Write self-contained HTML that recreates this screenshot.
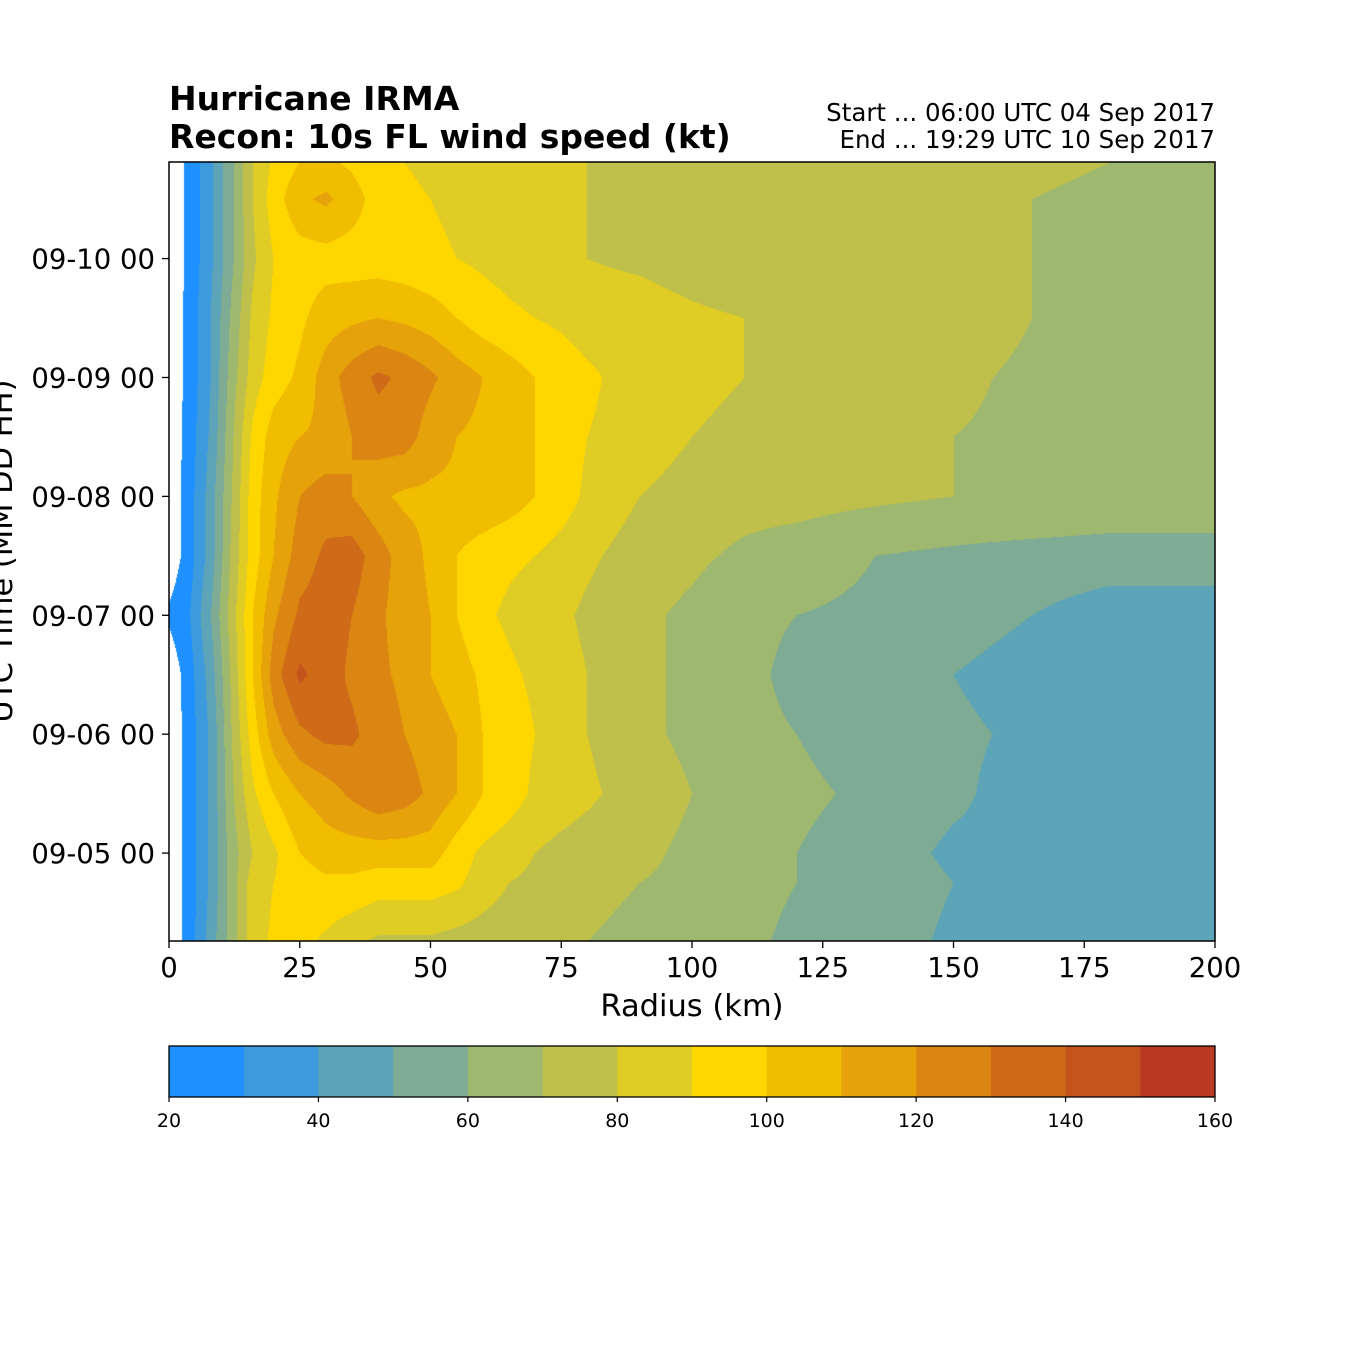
<!DOCTYPE html>
<html><head><meta charset="utf-8">
<style>
html,body{margin:0;padding:0;background:#fff;}
body{width:1350px;height:1350px;position:relative;overflow:hidden;font-family:"DejaVu Sans","Liberation Sans",sans-serif;}
.t{position:absolute;white-space:nowrap;color:#000;}
</style></head>
<body>
<div class="t" style="left:169px;top:80px;font-size:33px;font-weight:bold;line-height:38px;">Hurricane IRMA<br>Recon: 10s FL wind speed (kt)</div>
<div class="t" style="right:135px;top:99px;font-size:24.5px;line-height:27px;text-align:right;">Start ... 06:00 UTC 04 Sep 2017<br>End ... 19:29 UTC 10 Sep 2017</div>
<canvas id="cv" width="1046" height="779" style="position:absolute;left:169px;top:162px;"></canvas>
<svg id="ax" width="1350" height="1350" style="position:absolute;left:0;top:0;" font-family="DejaVu Sans, Liberation Sans, sans-serif"></svg>
<script>
const radii=[0,4,8,12,16,20,25,30,35,40,45,50,55,60,65,70,75,80,90,100,110,120,135,150,165,180,200];
const times=[4.25,4.75,5.0,5.5,6.0,6.5,7.0,7.5,8.0,8.5,9.0,9.5,10.0,10.5,10.81];
const wind=[
[12,25,45,65,85,92,93,88,82,78,78,78,76,75,74,74,72,70,68,66,62,58,55,48,47,42,42],
[12,25,42,65,85,90,95,98,98,95,95,95,92,85,80,78,75,72,70,68,63,60,56,50,48,45,44],
[12,25,42,65,80,88,100,105,105,105,105,105,95,88,84,80,77,75,72,68,65,60,55,48,48,45,45],
[12,25,42,68,88,100,110,115,122,128,125,118,110,100,95,88,85,82,75,70,65,62,58,52,45,45,48],
[12,25,42,70,95,115,128,133,132,125,120,115,110,100,95,90,85,80,72,68,62,60,55,52,48,45,45],
[12,26,45,72,100,125,142,135,128,122,118,110,105,98,92,88,84,80,72,68,62,58,55,50,45,45,45],
[22,30,50,75,100,118,132,135,130,122,115,110,100,92,88,85,82,78,72,68,62,60,58,55,50,45,45],
[12,26,45,72,95,110,125,132,135,125,115,108,100,95,92,90,86,82,75,72,68,65,60,58,56,55,55],
[12,26,45,70,95,108,120,125,120,112,108,108,108,108,105,100,95,88,80,76,74,74,72,70,70,68,68],
[12,25,42,68,92,105,110,112,120,125,125,115,110,108,104,100,95,90,85,80,78,76,72,70,68,66,66],
[12,24,40,65,85,95,102,115,125,132,128,122,115,110,105,100,96,92,85,82,80,78,76,72,68,66,66],
[12,24,40,62,82,92,98,105,108,110,108,105,100,95,92,90,88,85,85,82,80,80,78,76,70,68,68],
[12,23,38,58,78,90,95,96,95,95,94,92,90,88,86,84,82,80,78,75,72,72,74,72,70,68,68],
[12,23,38,58,80,95,108,112,105,95,92,90,88,85,84,82,81,80,76,72,70,70,72,72,70,68,68],
[12,23,38,58,80,92,100,102,98,92,90,88,85,82,82,81,80,80,79,78,77,77,76,74,72,70,70]];
const levels=[20,30,40,50,60,70,80,90,100,110,120,130,140,150,160];
const colors=["#1e90ff","#3d9adc","#5da4b8","#7eab94","#9fb86f","#bfc04b","#dfcc24","#ffd700","#f1bd00","#e6a20a","#db8612","#cf6b18","#c4541c","#b93a20"];
const yTickDays=[5,6,7,8,9,10];
const yTickLabels=["09-05 00","09-06 00","09-07 00","09-08 00","09-09 00","09-10 00"];
const xTicks=[0,25,50,75,100,125,150,175,200];
const cbTicks=[20,40,60,80,100,120,140,160];

const PL=169,PT=162,PW=1046,PH=779,T0=4.2604,T1=10.8125;
const xs=r=>PL+r/200*PW;
const ys=t=>PT+PH-(t-T0)/(T1-T0)*PH;
function seg(arr,v){let i=0;while(i<arr.length-2&&v>arr[i+1])i++;let f=(v-arr[i])/(arr[i+1]-arr[i]);return [i,Math.max(0,Math.min(1,f))];}
function hexrgb(h){return [parseInt(h.substr(1,2),16),parseInt(h.substr(3,2),16),parseInt(h.substr(5,2),16)];}
const rgb=colors.map(hexrgb);
const cv=document.getElementById('cv'),ctx=cv.getContext('2d');
const img=ctx.createImageData(PW,PH);
const cx=[];for(let px=0;px<PW;px++)cx.push(seg(radii,(px+0.5)/PW*200));
for(let py=0;py<PH;py++){
 const t=T0+(PH-py-0.5)/PH*(T1-T0);
 const [j,g]=seg(times,t);
 for(let px=0;px<PW;px++){
  const [i,f]=cx[px];
  const v=(1-g)*((1-f)*wind[j][i]+f*wind[j][i+1])+g*((1-f)*wind[j+1][i]+f*wind[j+1][i+1]);
  const k=(py*PW+px)*4;
  let c=[255,255,255];
  if(v>=20){let l=Math.min(13,Math.floor((v-20)/10));c=rgb[l];}
  img.data[k]=c[0];img.data[k+1]=c[1];img.data[k+2]=c[2];img.data[k+3]=255;
 }
}
ctx.putImageData(img,0,0);

const ax=document.getElementById('ax');const NS='http://www.w3.org/2000/svg';
function mk(tag,at,txt){const e=document.createElementNS(NS,tag);for(const k in at)e.setAttribute(k,at[k]);if(txt!==undefined)e.textContent=txt;ax.appendChild(e);return e;}
let e=mk('rect',{x:PL,y:PT,width:PW,height:PH,fill:'none',stroke:'#000','stroke-width':1.5});


xTicks.forEach(v=>{
 let l=mk('line',{x1:xs(v),x2:xs(v),y1:PT+PH,y2:PT+PH+7,stroke:'#000','stroke-width':1.3});
 
 
 let t=mk('text',{x:xs(v),y:977,'font-size':27.5,'text-anchor':'middle'},String(v));
 
 
});
yTickDays.forEach((d,i)=>{
 let l=mk('line',{x1:PL-7,x2:PL,y1:ys(d),y2:ys(d),stroke:'#000','stroke-width':1.3});
 
 
 let t=mk('text',{x:155,y:ys(d)+10,'font-size':27.5,'text-anchor':'end'},yTickLabels[i]);
 
 
});
e=mk('text',{x:692,y:1016,'font-size':30.5,'text-anchor':'middle'},'Radius (km)');


e=mk('text',{x:12,y:551,'font-size':30.5,'text-anchor':'middle',transform:'rotate(-90 12 551)'},'UTC Time (MM DD HH)');


const CL=169,CW=1046,CT=1046,CH=51;
const cbx=v=>CL+(v-20)/140*CW;
colors.forEach((c,i)=>{
 let r=mk('rect',{x:cbx(levels[i]),y:CT,width:cbx(levels[i+1])-cbx(levels[i])+0.5,height:CH,fill:c});
 
 
});
e=mk('rect',{x:CL,y:CT,width:CW,height:CH,fill:'none',stroke:'#000','stroke-width':1.3});


cbTicks.forEach(v=>{
 let l=mk('line',{x1:cbx(v),x2:cbx(v),y1:CT+CH,y2:CT+CH+5,stroke:'#000','stroke-width':1.2});
 
 
 let t=mk('text',{x:cbx(v),y:1127,'font-size':19,'text-anchor':'middle'},String(v));
 
 
});
</script>
</body></html>
